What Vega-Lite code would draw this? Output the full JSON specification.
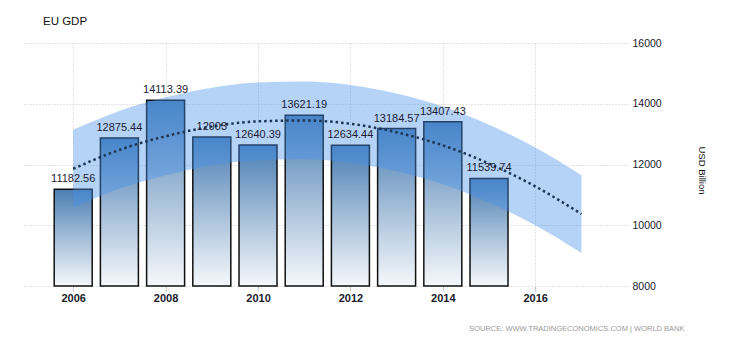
{
  "$schema": "https://vega.github.io/schema/vega-lite/v6.json",
  "autosize": {"type": "none"},
  "padding": {"left": 22, "top": 43, "right": 102, "bottom": 54},
  "width": 606,
  "height": 243,
  "background": "white",
  "title": {
    "text": "EU GDP",
    "anchor": "start",
    "frame": "group",
    "dx": 21,
    "offset": 2,
    "baseline": "alphabetic",
    "font": "Liberation Sans",
    "fontSize": 11.5,
    "fontWeight": "normal",
    "color": "#111111"
  },
  "datasets": {
    "gdp": [
      {"year": 2006, "value": 11182.56},
      {"year": 2007, "value": 12875.44},
      {"year": 2008, "value": 14113.39},
      {"year": 2009, "value": 12903},
      {"year": 2010, "value": 12640.39},
      {"year": 2011, "value": 13621.19},
      {"year": 2012, "value": 12634.44},
      {"year": 2013, "value": 13184.57},
      {"year": 2014, "value": 13407.43},
      {"year": 2015, "value": 11539.74}
    ],
    "trend": [
      {"year": 2006, "trend": 11860, "low": 10580, "high": 13140},
      {"year": 2007, "trend": 12480, "low": 11200, "high": 13760},
      {"year": 2008, "trend": 12930, "low": 11650, "high": 14210},
      {"year": 2009, "trend": 13250, "low": 11970, "high": 14530},
      {"year": 2010, "trend": 13420, "low": 12140, "high": 14700},
      {"year": 2011, "trend": 13450, "low": 12170, "high": 14730},
      {"year": 2012, "trend": 13340, "low": 12060, "high": 14620},
      {"year": 2013, "trend": 13060, "low": 11780, "high": 14340},
      {"year": 2014, "trend": 12630, "low": 11350, "high": 13910},
      {"year": 2015, "trend": 12030, "low": 10750, "high": 13310},
      {"year": 2016, "trend": 11280, "low": 10000, "high": 12560},
      {"year": 2017, "trend": 10370, "low": 9090, "high": 11650}
    ]
  },
  "config": {
    "view": {"stroke": null},
    "axis": {
      "labelFont": "Liberation Sans",
      "titleFont": "Liberation Sans",
      "gridColor": "#c8c8c8",
      "gridDash": [1, 2],
      "gridWidth": 1
    }
  },
  "layer": [
    {
      "data": {"name": "gdp"},
      "mark": {
        "type": "bar",
        "size": 38,
        "stroke": "#111111",
        "strokeWidth": 1.5,
        "color": {
          "gradient": "linear",
          "x1": 0, "y1": 0, "x2": 0, "y2": 1,
          "stops": [
            {"offset": 0, "color": "#4a7eb4"},
            {"offset": 0.5, "color": "#a3bdd8"},
            {"offset": 1, "color": "#f5f8fb"}
          ]
        }
      },
      "encoding": {
        "x": {
          "field": "year",
          "type": "quantitative",
          "scale": {"domain": [2005, 2017.9], "nice": false, "zero": false},
          "axis": {
            "values": [2006, 2008, 2010, 2012, 2014, 2016],
            "format": "d",
            "grid": true,
            "domain": false,
            "ticks": true,
            "tickColor": "#c8c8c8",
            "tickSize": 5,
            "labelPadding": 1,
            "labelFontSize": 11,
            "labelColor": "#1a1a2a",
            "labelFontWeight": "bold",
            "title": "SOURCE: WWW.TRADINGECONOMICS.COM | WORLD BANK",
            "titleFont": "Liberation Sans",
            "titleFontSize": 7.5,
            "titleFontWeight": "normal",
            "titleColor": "#9a9a9a",
            "titleAnchor": "end",
            "titleAlign": "right",
            "titleBaseline": "alphabetic",
            "titleX": 662,
            "titleY": 44
          }
        },
        "y": {
          "field": "value",
          "type": "quantitative",
          "scale": {"domain": [8000, 16000], "nice": false, "zero": false},
          "axis": {
            "orient": "right",
            "values": [8000, 10000, 12000, 14000, 16000],
            "format": "d",
            "grid": true,
            "domain": false,
            "ticks": false,
            "labelPadding": 4,
            "labelFontSize": 10.5,
            "labelColor": "#1a1a2a",
            "title": "USD Billion",
            "titleFontSize": 9.5,
            "titleFontWeight": "normal",
            "titleColor": "#111111",
            "titleAngle": 90,
            "titleAlign": "center",
            "titleBaseline": "middle",
            "titleX": 73,
            "titleY": 127
          }
        },
        "y2": {"datum": 8000}
      }
    },
    {
      "data": {"name": "trend"},
      "mark": {"type": "area", "interpolate": "monotone", "color": "#4691eb", "opacity": 0.4},
      "encoding": {
        "x": {"field": "year", "type": "quantitative"},
        "y": {"field": "low", "type": "quantitative"},
        "y2": {"field": "high"}
      }
    },
    {
      "data": {"name": "trend"},
      "mark": {"type": "line", "interpolate": "monotone", "color": "#1c3552", "strokeWidth": 2.5, "strokeDash": [2.5, 3]},
      "encoding": {
        "x": {"field": "year", "type": "quantitative"},
        "y": {"field": "trend", "type": "quantitative"}
      }
    },
    {
      "data": {"name": "gdp"},
      "mark": {"type": "text", "baseline": "alphabetic", "dy": -7, "font": "Liberation Sans", "fontSize": 11, "color": "#1b1b33"},
      "encoding": {
        "x": {"field": "year", "type": "quantitative"},
        "y": {"field": "value", "type": "quantitative"},
        "text": {"field": "value", "type": "nominal"}
      }
    }
  ]
}
